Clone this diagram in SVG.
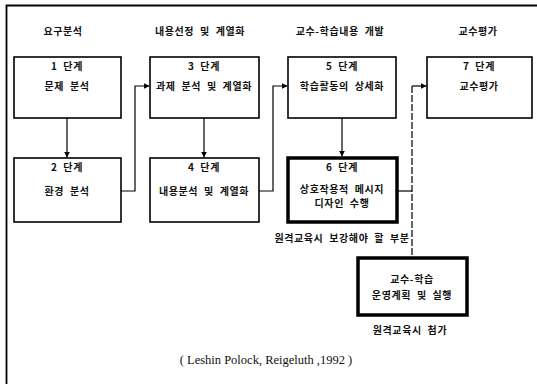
<svg xmlns="http://www.w3.org/2000/svg" width="537" height="384" viewBox="0 0 537 384">
<style>
.bg{fill:#fff}
.box{fill:#fff;stroke:#000;stroke-width:1.6}
.thick{fill:#fff;stroke:#000;stroke-width:3.5}
.t{font-family:"Noto Sans CJK KR","Noto Sans",sans-serif;font-size:10px;font-weight:bold;fill:#111;text-anchor:middle;letter-spacing:0.6px;word-spacing:3px}
.cite{font-family:"Liberation Serif",serif;font-size:12.5px;fill:#111;text-anchor:middle}
.ln{fill:none;stroke:#000;stroke-width:1.2}
.dash{fill:none;stroke:#000;stroke-width:1.2;stroke-dasharray:7,2}
</style>
<defs>
<marker id="ah" viewBox="0 0 10 10" refX="9" refY="5" markerWidth="5" markerHeight="5" orient="auto">
<path d="M0,0 L10,5 L0,10 z" fill="#000"/>
</marker>
</defs>
<rect class="bg" x="0" y="0" width="537" height="384"/>
<path d="M6.5,384 V5.5 H537" fill="none" stroke="#000" stroke-width="1.8"/>

<g id="headings">
<text class="t" x="63" y="35">요구분석</text>
<text class="t" x="200" y="35">내용선정 및 계열화</text>
<text class="t" x="340" y="35">교수-학습내용 개발</text>
<text class="t" x="478" y="35">교수평가</text>
</g>

<g id="connectors">
<path class="ln" d="M67,118 V157" marker-end="url(#ah)"/>
<path class="ln" d="M121,191 H135 V86 H149" marker-end="url(#ah)"/>
<path class="ln" d="M204,118 V157" marker-end="url(#ah)"/>
<path class="ln" d="M259,191 H273 V86 H287" marker-end="url(#ah)"/>
<path class="ln" d="M342,118 V156" stroke-width="1.8" marker-end="url(#ah)"/>
<path class="ln" d="M397,191 H412"/>
<path class="dash" d="M412,86 V256"/>
<path class="ln" d="M412,86 H426" marker-end="url(#ah)"/>
</g>

<g id="step1">
<rect class="box" x="14" y="57" width="107" height="61"/>
<text class="t" x="67" y="70">1 단계</text>
<text class="t" x="67" y="90">문제 분석</text>
</g>
<g id="step3">
<rect class="box" x="150" y="57" width="109" height="61"/>
<text class="t" x="204" y="70">3 단계</text>
<text class="t" x="204" y="90">과제 분석 및 계열화</text>
</g>
<g id="step5">
<rect class="box" x="288" y="57" width="108" height="61"/>
<text class="t" x="342" y="70">5 단계</text>
<text class="t" x="342" y="90">학습활동의 상세화</text>
</g>
<g id="step7">
<rect class="box" x="427" y="57" width="105" height="61"/>
<text class="t" x="479" y="70">7 단계</text>
<text class="t" x="479" y="90">교수평가</text>
</g>
<g id="step2">
<rect class="box" x="14" y="158" width="107" height="64"/>
<text class="t" x="67" y="171">2 단계</text>
<text class="t" x="67" y="195">환경 분석</text>
</g>
<g id="step4">
<rect class="box" x="150" y="158" width="109" height="64"/>
<text class="t" x="204" y="171">4 단계</text>
<text class="t" x="204" y="195">내용분석 및 계열화</text>
</g>
<g id="step6">
<rect class="thick" x="288" y="158" width="109" height="64"/>
<text class="t" x="342" y="171">6 단계</text>
<text class="t" x="342" y="193">상호작용적 메시지</text>
<text class="t" x="342" y="207">디자인 수행</text>
</g>
<text class="t" x="342" y="242">원격교육시 보강해야 할 부분</text>
<g id="operation">
<rect class="thick" x="358" y="258" width="109" height="57"/>
<text class="t" x="412" y="283">교수-학습</text>
<text class="t" x="412" y="299">운영계획 및 실행</text>
</g>
<text class="t" x="410" y="334">원격교육시 첨가</text>
<text class="cite" x="266" y="364">( Leshin  Polock, Reigeluth ,1992 )</text>
</svg>
